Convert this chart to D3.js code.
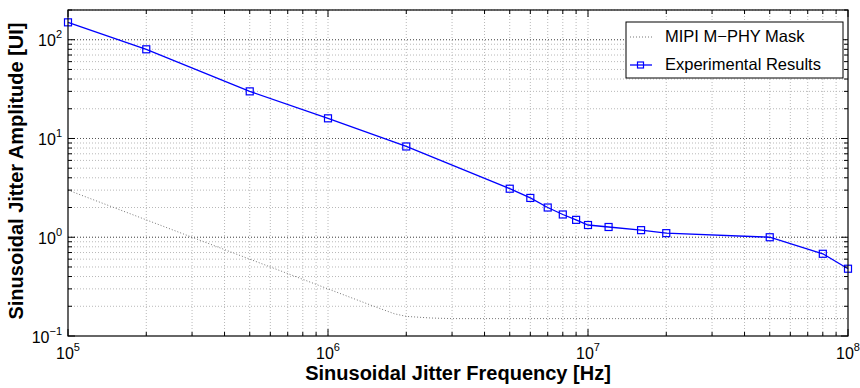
<!DOCTYPE html>
<html lang="en">
<head>
    <meta charset="UTF-8">
    <title>Sinusoidal Jitter Tolerance</title>
    <script src="https://d3js.org/d3.v7.min.js"></script>
    <style>
        body {
            margin: 0;
            background: #fff;
            font-family: "Liberation Sans", Arial, Helvetica, sans-serif;
        }
        svg text { fill: #000; }
    </style>
</head>
<body>
    <div id="chart"></div>

    <script>
        // Experimental results (frequency in Hz, amplitude in UI)
        const expFreq = [1e5, 2e5, 5e5, 1e6, 2e6, 5e6, 6e6, 7e6, 8e6, 9e6, 1e7, 1.2e7, 1.6e7, 2e7, 5e7, 8e7, 1e8];
        const expAmp  = [150, 80, 30, 16, 8.3, 3.1, 2.5, 2.0, 1.7, 1.5, 1.33, 1.27, 1.18, 1.1, 1.0, 0.68, 0.48];

        // MIPI M-PHY mask
        const maskFreq = [1e5, 2e5, 5e5, 1e6, 1.5e6, 1.8e6, 2e6, 2.5e6, 3e6, 1e8];
        const maskAmp  = [3.0, 1.5, 0.6, 0.3, 0.2, 0.168, 0.158, 0.152, 0.15, 0.15];

        const xTickExp = [5, 6, 7, 8];
        const yTickExp = [-1, 0, 1, 2];
        const legendLabels = ["MIPI M\u2212PHY Mask", "Experimental Results"];

        const W = 860, H = 388;
        const margin = { top: 10, right: 12, bottom: 52, left: 68 };
        const innerW = W - margin.left - margin.right,
              innerH = H - margin.top - margin.bottom;

        const svg = d3.select("#chart").append("svg")
            .attr("width", W)
            .attr("height", H);

        const g = svg.append("g")
            .attr("transform", `translate(${margin.left},${margin.top})`);

        const x = d3.scaleLog().domain([1e5, 1e8]).range([0, innerW]);
        const y = d3.scaleLog().domain([0.1, 200]).range([innerH, 0]);

        // minor / major tick values
        const xMinor = [], yMinor = [];
        for (let e = 5; e < 8; e++) for (let m = 2; m <= 9; m++) xMinor.push(m * Math.pow(10, e));
        for (let e = -1; e < 3; e++) for (let m = 2; m <= 9; m++) {
            const v = m * Math.pow(10, e);
            if (v <= 200) yMinor.push(v);
        }
        const xMajor = xTickExp.map(e => Math.pow(10, e));
        const yMajor = yTickExp.map(e => Math.pow(10, e));

        // grid
        const grid = g.append("g");
        grid.selectAll(".gx").data(xMinor.concat(xMajor.slice(1, -1))).enter().append("line")
            .attr("x1", d => x(d)).attr("x2", d => x(d))
            .attr("y1", 0).attr("y2", innerH)
            .attr("stroke", "#b8b8b8").attr("stroke-width", 1)
            .attr("stroke-dasharray", "1,2");
        grid.selectAll(".gy").data(yMinor.concat(yMajor.slice(1))).enter().append("line")
            .attr("x1", 0).attr("x2", innerW)
            .attr("y1", d => y(d)).attr("y2", d => y(d))
            .attr("stroke", "#b8b8b8").attr("stroke-width", 1)
            .attr("stroke-dasharray", "1,2");
        grid.selectAll(".gym").data(yMajor.slice(1)).enter().append("line")
            .attr("x1", 0).attr("x2", innerW)
            .attr("y1", d => y(d)).attr("y2", d => y(d))
            .attr("stroke", "#555").attr("stroke-width", 1)
            .attr("stroke-dasharray", "1,2");

        // mask line
        const line = d3.line().x(d => x(d[0])).y(d => y(d[1]));
        g.append("path")
            .datum(maskFreq.map((f, i) => [f, maskAmp[i]]))
            .attr("fill", "none")
            .attr("stroke", "#777")
            .attr("stroke-width", 1)
            .attr("stroke-dasharray", "1,2")
            .attr("d", line);

        // experimental line
        const expData = expFreq.map((f, i) => [f, expAmp[i]]);
        g.append("path")
            .datum(expData)
            .attr("fill", "none")
            .attr("stroke", "#0000ff")
            .attr("stroke-width", 1.3)
            .attr("d", line);
        g.selectAll(".mk").data(expData).enter().append("rect")
            .attr("x", d => x(d[0]) - 3.5)
            .attr("y", d => y(d[1]) - 3.5)
            .attr("width", 7).attr("height", 7)
            .attr("fill", "none")
            .attr("stroke", "#0000ff")
            .attr("stroke-width", 1.2);

        // inward ticks on all four sides
        const ticks = g.append("g").attr("stroke", "#000").attr("stroke-width", 1);
        function xTicks(vals, len) {
            vals.forEach(v => {
                ticks.append("line").attr("x1", x(v)).attr("x2", x(v)).attr("y1", innerH).attr("y2", innerH - len);
                ticks.append("line").attr("x1", x(v)).attr("x2", x(v)).attr("y1", 0).attr("y2", len);
            });
        }
        function yTicks(vals, len) {
            vals.forEach(v => {
                ticks.append("line").attr("y1", y(v)).attr("y2", y(v)).attr("x1", 0).attr("x2", len);
                ticks.append("line").attr("y1", y(v)).attr("y2", y(v)).attr("x1", innerW).attr("x2", innerW - len);
            });
        }
        xTicks(xMinor, 4); xTicks(xMajor, 7);
        yTicks(yMinor, 4); yTicks(yMajor, 7);

        // frame
        g.append("rect")
            .attr("width", innerW).attr("height", innerH)
            .attr("fill", "none").attr("stroke", "#000").attr("stroke-width", 1.2);

        // tick labels (10^n)
        function powLabel(sel, e) {
            sel.append("tspan").text("10");
            sel.append("tspan").attr("dy", -8).attr("font-size", 11).text(e < 0 ? "\u2212" + (-e) : e);
        }
        xTickExp.forEach(e => {
            const t = g.append("text")
                .attr("x", x(Math.pow(10, e)))
                .attr("y", innerH + 23)
                .attr("font-size", 16)
                .attr("text-anchor", "middle");
            powLabel(t, e);
        });
        yTickExp.forEach(e => {
            const t = g.append("text")
                .attr("x", -6)
                .attr("y", y(Math.pow(10, e)) + 6.5)
                .attr("font-size", 16)
                .attr("text-anchor", "end");
            powLabel(t, e);
        });

        // axis titles
        svg.append("text")
            .attr("x", margin.left + innerW / 2)
            .attr("y", 380)
            .attr("text-anchor", "middle")
            .attr("font-size", 20)
            .attr("font-weight", "bold")
            .text("Sinusoidal Jitter Frequency [Hz]");
        svg.append("text")
            .attr("transform", `translate(23,${margin.top + innerH / 2 - 2}) rotate(-90)`)
            .attr("text-anchor", "middle")
            .attr("font-size", 20)
            .attr("font-weight", "bold")
            .text("Sinusoidal Jitter Amplitude [UI]");

        // legend
        const lg = svg.append("g").attr("transform", "translate(626,22)");
        lg.append("rect").attr("width", 217).attr("height", 56)
            .attr("fill", "#fff").attr("stroke", "#000").attr("stroke-width", 1);
        lg.append("line").attr("x1", 4).attr("x2", 26).attr("y1", 15).attr("y2", 15)
            .attr("stroke", "#777").attr("stroke-dasharray", "1,2");
        lg.append("line").attr("x1", 4).attr("x2", 26).attr("y1", 43).attr("y2", 43)
            .attr("stroke", "#0000ff").attr("stroke-width", 1.3);
        lg.append("rect").attr("x", 11.5).attr("y", 40).attr("width", 6).attr("height", 6)
            .attr("fill", "none").attr("stroke", "#0000ff").attr("stroke-width", 1.2);
        legendLabels.forEach((s, i) => {
            lg.append("text").attr("x", 39).attr("y", 20 + i * 28)
                .attr("font-size", 16.5).text(s);
        });
    </script>
</body>
</html>
